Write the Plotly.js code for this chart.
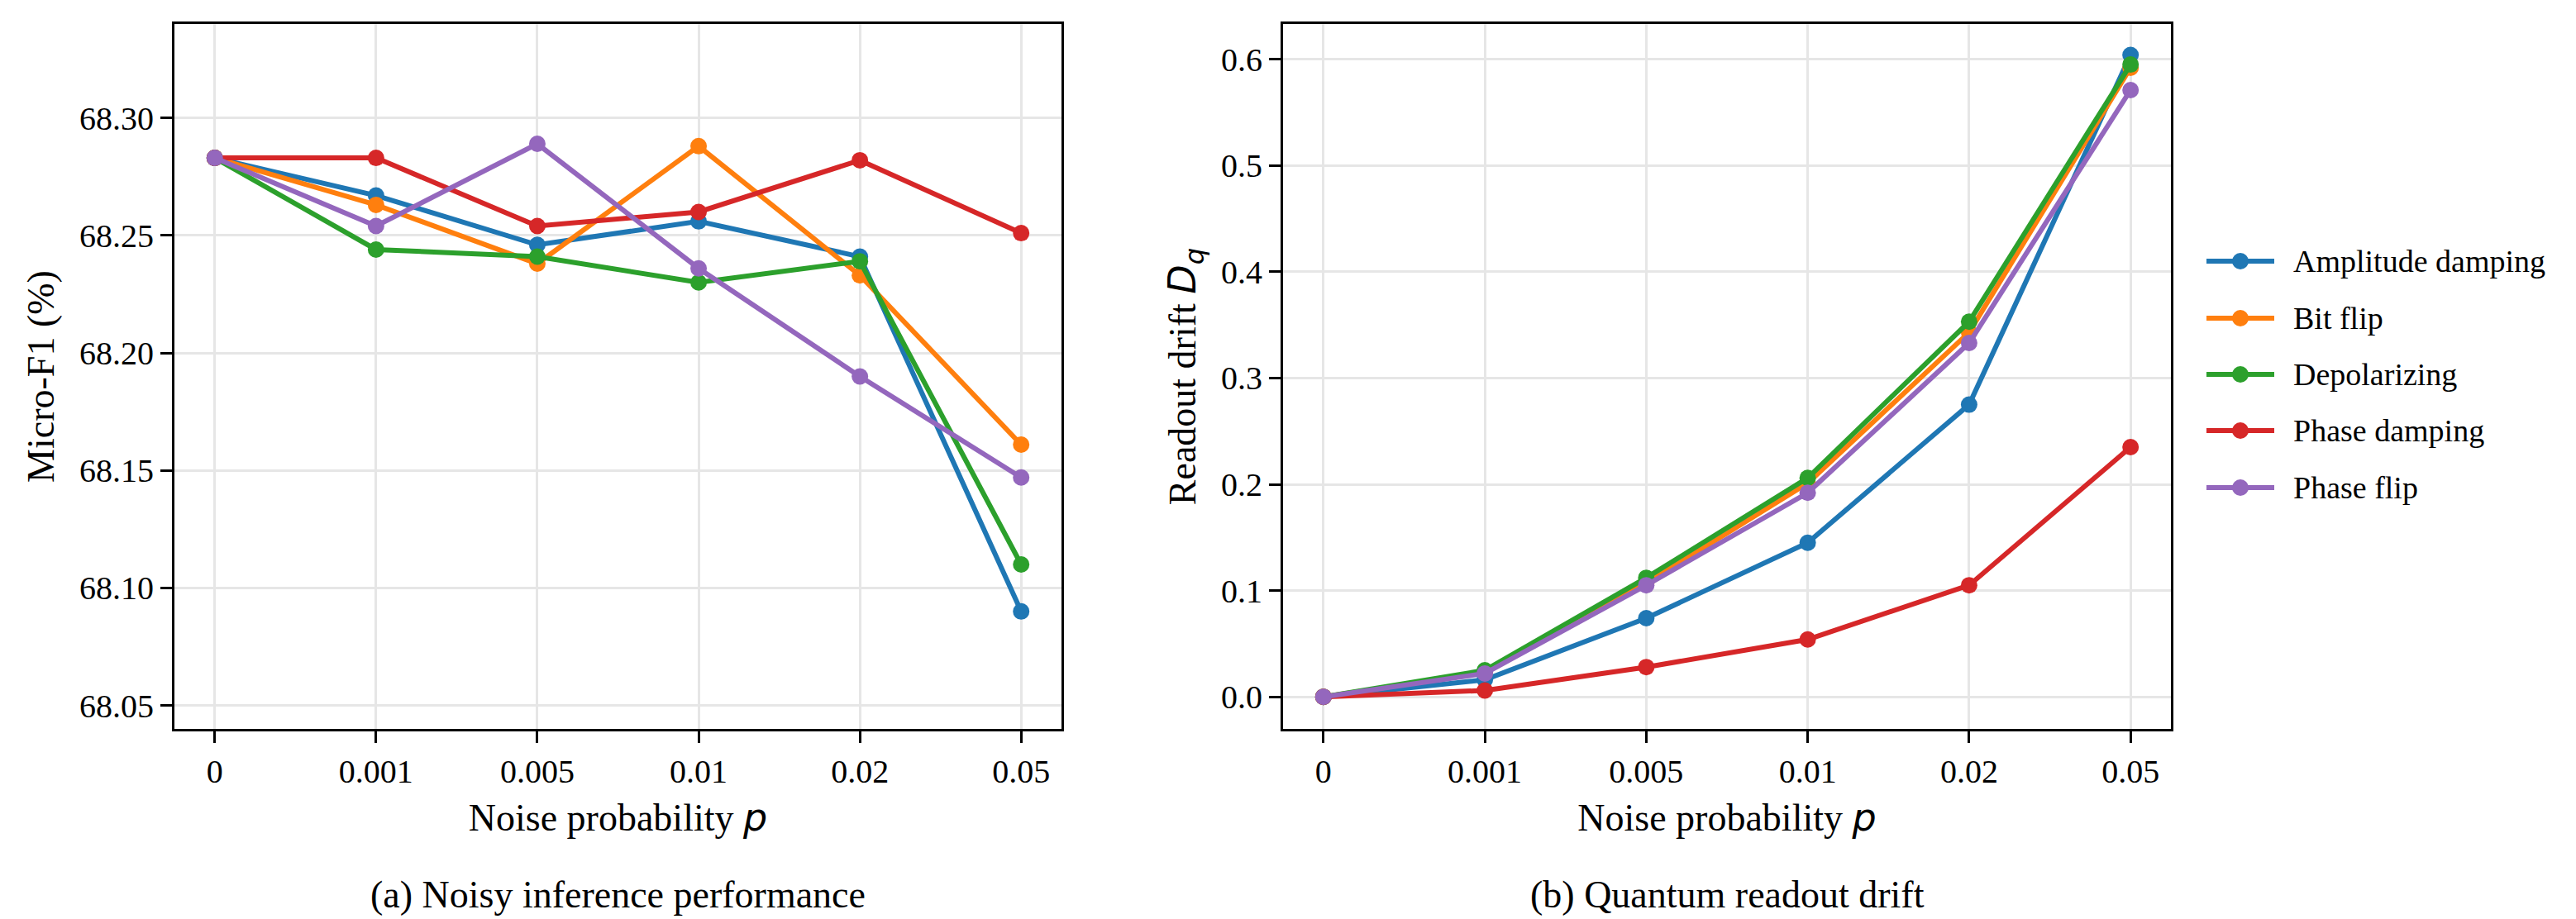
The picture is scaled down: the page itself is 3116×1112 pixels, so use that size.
<!DOCTYPE html>
<html>
<head>
<meta charset="utf-8">
<script src="https://cdn.plot.ly/plotly-3.0.1.min.js"></script>
<style>html,body{margin:0;padding:0;background:#fff;}</style>
</head>
<body>
<div id="chart" style="width:3116px;height:1112px;"></div>
<script>
// Noise levels on the shared categorical x axis
const noiseLevels = ['0', '0.001', '0.005', '0.01', '0.02', '0.05'];

// Noise channels
const channelNames = ['Amplitude damping', 'Bit flip', 'Depolarizing', 'Phase damping', 'Phase flip'];
const channelColors = ['#1f77b4', '#ff7f0e', '#2ca02c', '#d62728', '#9467bd'];

// (a) Micro-F1 (%) under noisy inference
const f1Amplitude    = [68.283, 68.267, 68.246, 68.256, 68.241, 68.090];
const f1BitFlip      = [68.283, 68.263, 68.238, 68.288, 68.233, 68.161];
const f1Depolarizing = [68.283, 68.244, 68.241, 68.230, 68.239, 68.110];
const f1PhaseDamping = [68.283, 68.283, 68.254, 68.260, 68.282, 68.251];
const f1PhaseFlip    = [68.283, 68.254, 68.289, 68.236, 68.190, 68.147];

// (b) Quantum readout drift D_q
const driftAmplitude    = [0, 0.016, 0.074, 0.145, 0.275, 0.604];
const driftBitFlip      = [0, 0.023, 0.107, 0.201, 0.343, 0.592];
const driftDepolarizing = [0, 0.025, 0.112, 0.206, 0.353, 0.595];
const driftPhaseDamping = [0, 0.006, 0.028, 0.054, 0.105, 0.235];
const driftPhaseFlip    = [0, 0.022, 0.105, 0.192, 0.333, 0.571];

// Tick values
const f1Ticks = [68.05, 68.10, 68.15, 68.20, 68.25, 68.30];
const driftTicks = [0.0, 0.1, 0.2, 0.3, 0.4, 0.5, 0.6];

const f1Series = [f1Amplitude, f1BitFlip, f1Depolarizing, f1PhaseDamping, f1PhaseFlip];
const driftSeries = [driftAmplitude, driftBitFlip, driftDepolarizing, driftPhaseDamping, driftPhaseFlip];

const W = 3116, H = 1112;
const px = v => v / W;
const py = v => 1 - v / H;

const SERIF = 'Liberation Serif';
const MATH = 'DejaVu Sans';
const serifFont = size => ({family: SERIF, size: size, color: '#000'});

const traces = [];
function addSeries(seriesList, xa, ya) {
  seriesList.forEach((vals, i) => {
    traces.push({
      type: 'scatter', mode: 'lines+markers',
      x: noiseLevels, y: vals,
      name: channelNames[i],
      xaxis: xa, yaxis: ya,
      line: {color: channelColors[i], width: 6},
      marker: {color: channelColors[i], size: 20},
      showlegend: false,
      hoverinfo: 'x+y+name'
    });
  });
}
addSeries(f1Series, 'x', 'y');
addSeries(driftSeries, 'x2', 'y2');

function axis(extra) {
  return Object.assign({
    showline: true, mirror: true, linecolor: '#000', linewidth: 3,
    ticks: 'outside', ticklen: 14, tickwidth: 3, tickcolor: '#000',
    showgrid: true, gridcolor: '#e6e6e6', gridwidth: 3,
    zeroline: false,
    tickfont: serifFont(40)
  }, extra);
}

const xTitle = () => ({
  text: 'Noise probability <span style="font-family:' + MATH + ';"><i>p</i></span>',
  font: serifFont(46), standoff: 18
});

const layout = {
  width: W, height: H,
  margin: {l: 0, r: 0, t: 0, b: 0},
  paper_bgcolor: '#fff', plot_bgcolor: '#fff',
  font: serifFont(40),
  showlegend: false,
  xaxis: axis({
    domain: [px(211), px(1284)], anchor: 'y',
    type: 'category', categoryarray: noiseLevels, range: [-0.25, 5.25],
    title: xTitle()
  }),
  yaxis: axis({
    domain: [py(882), py(29)], anchor: 'x',
    range: [68.04, 68.34], tickvals: f1Ticks, ticktext: f1Ticks.map(v => v.toFixed(2)),
    title: {text: 'Micro-F1 (%)', font: serifFont(46), standoff: 16}
  }),
  xaxis2: axis({
    domain: [px(1552), px(2626)], anchor: 'y2',
    type: 'category', categoryarray: noiseLevels, range: [-0.25, 5.25],
    title: xTitle()
  }),
  yaxis2: axis({
    domain: [py(882), py(29)], anchor: 'x2',
    range: [-0.0302, 0.6332], tickvals: driftTicks, ticktext: driftTicks.map(v => v.toFixed(1)),
    title: {text: 'Readout drift <span style="font-family:' + MATH + ';"><i>D</i><sub><i>q</i></sub></span>',
            font: serifFont(46), standoff: 16}
  }),
  shapes: [],
  annotations: [
    {xref: 'paper', yref: 'paper', x: px(747), y: py(1082), xanchor: 'center', yanchor: 'middle',
     text: '(a) Noisy inference performance', showarrow: false, font: serifFont(46)},
    {xref: 'paper', yref: 'paper', x: px(2089), y: py(1082), xanchor: 'center', yanchor: 'middle',
     text: '(b) Quantum readout drift', showarrow: false, font: serifFont(46)}
  ]
};

// Legend for the noise channels, placed right of panel (b)
const legendRowY = [316, 385, 453, 521, 590];
channelNames.forEach((name, i) => {
  const yy = legendRowY[i];
  layout.shapes.push({
    type: 'line', xref: 'paper', yref: 'paper',
    x0: px(2669), x1: px(2751), y0: py(yy), y1: py(yy),
    line: {color: channelColors[i], width: 6}
  });
  layout.shapes.push({
    type: 'circle', xref: 'paper', yref: 'paper',
    x0: px(2700), x1: px(2720), y0: py(yy + 10), y1: py(yy - 10),
    fillcolor: channelColors[i], line: {width: 0}
  });
  layout.annotations.push({
    xref: 'paper', yref: 'paper', x: px(2772), y: py(yy), xanchor: 'left', yanchor: 'middle',
    text: name, showarrow: false, font: serifFont(38)
  });
});

Plotly.newPlot('chart', traces, layout, {displayModeBar: false, staticPlot: true});
</script>
</body>
</html>
